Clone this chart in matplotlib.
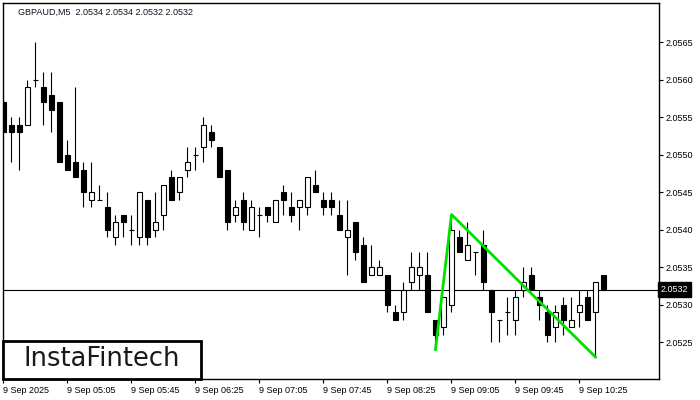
import matplotlib
matplotlib.use("Agg")
from matplotlib import pyplot as plt
from matplotlib.patches import Rectangle
import matplotlib.transforms as mtransforms

# GBPAUD M5 bars, 04:25 .. 10:40
opens = [2.0557, 2.0554, 2.0554, 2.0554, 2.0560, 2.0559, 2.0558, 2.0557, 2.0550, 2.0549,
         2.0548, 2.0544, 2.0544, 2.0543, 2.0539, 2.0542, 2.0540, 2.0539, 2.0544, 2.0540,
         2.0542, 2.0547, 2.0545, 2.0548, 2.0550, 2.0551, 2.0553, 2.0551, 2.0548, 2.0542,
         2.0544, 2.0540, 2.0542, 2.0543, 2.0541, 2.0545, 2.0543, 2.0543, 2.0543, 2.0546,
         2.0544, 2.0544, 2.0542, 2.0539, 2.0541, 2.0538, 2.0534, 2.0534, 2.0534, 2.0529,
         2.0529, 2.0533, 2.0534, 2.0534, 2.0528, 2.0527, 2.0530, 2.0539, 2.0536, 2.0537,
         2.0538, 2.0532, 2.0528, 2.0529, 2.0528, 2.0532, 2.0534, 2.0531, 2.0529, 2.0527,
         2.0530, 2.0527, 2.0529, 2.0531, 2.0529, 2.0534]
highs = [2.0558, 2.0555, 2.0555, 2.0560, 2.0565, 2.0561, 2.0561, 2.0557, 2.0552, 2.0559,
         2.0549, 2.0549, 2.0546, 2.0545, 2.0542, 2.0542, 2.0542, 2.0545, 2.0544, 2.0545,
         2.0546, 2.0548, 2.0547, 2.0551, 2.0551, 2.0555, 2.0554, 2.0551, 2.0548, 2.0544,
         2.0545, 2.0544, 2.0543, 2.0543, 2.0544, 2.0546, 2.0545, 2.0544, 2.0547, 2.0548,
         2.0545, 2.0545, 2.0544, 2.0544, 2.0541, 2.0539, 2.0538, 2.0536, 2.0534, 2.0530,
         2.0533, 2.0537, 2.0537, 2.0537, 2.0528, 2.0531, 2.0542, 2.0540, 2.0541, 2.0537,
         2.0540, 2.0532, 2.0528, 2.0531, 2.0532, 2.0535, 2.0535, 2.0532, 2.0530, 2.0530,
         2.0531, 2.0531, 2.0532, 2.0532, 2.0533, 2.0534]
lows = [2.0553, 2.0549, 2.0548, 2.0554, 2.0559, 2.0554, 2.0553, 2.0549, 2.0548, 2.0547,
        2.0543, 2.0543, 2.0544, 2.0539, 2.0538, 2.0539, 2.0538, 2.0538, 2.0538, 2.0539,
        2.0540, 2.0544, 2.0544, 2.0547, 2.0548, 2.0549, 2.0551, 2.0547, 2.0540, 2.0541,
        2.0540, 2.0540, 2.0539, 2.0541, 2.0541, 2.0542, 2.0541, 2.0540, 2.0542, 2.0545,
        2.0542, 2.0542, 2.0540, 2.0534, 2.0536, 2.0533, 2.0534, 2.0534, 2.0529, 2.0528,
        2.0528, 2.0532, 2.0532, 2.0529, 2.0524, 2.0526, 2.0529, 2.0537, 2.0536, 2.0534,
        2.0532, 2.0525, 2.0525, 2.0526, 2.0526, 2.0531, 2.0532, 2.0528, 2.0525, 2.0525,
        2.0526, 2.0527, 2.0527, 2.0528, 2.0523, 2.0532]
closes = [2.0553, 2.0553, 2.0553, 2.0559, 2.0560, 2.0557, 2.0556, 2.0549, 2.0548, 2.0547,
          2.0545, 2.0545, 2.0544, 2.0540, 2.0541, 2.0541, 2.0540, 2.0545, 2.0539, 2.0541,
          2.0546, 2.0544, 2.0547, 2.0549, 2.0550, 2.0554, 2.0552, 2.0547, 2.0541, 2.0543,
          2.0541, 2.0543, 2.0542, 2.0542, 2.0544, 2.0544, 2.0542, 2.0544, 2.0547, 2.0545,
          2.0543, 2.0543, 2.0540, 2.0540, 2.0537, 2.0533, 2.0535, 2.0535, 2.0530, 2.0528,
          2.0532, 2.0535, 2.0535, 2.0529, 2.0526, 2.0531, 2.0540, 2.0537, 2.0538, 2.0537,
          2.0533, 2.0529, 2.0528, 2.0529, 2.0531, 2.0533, 2.0532, 2.0530, 2.0526, 2.0529,
          2.0528, 2.0528, 2.0530, 2.0528, 2.0533, 2.0532]

x_ticks = [0, 8, 16, 24, 32, 40, 48, 56, 64, 72]
x_labels = ["9 Sep 2025", "9 Sep 05:05", "9 Sep 05:45", "9 Sep 06:25", "9 Sep 07:05",
            "9 Sep 07:45", "9 Sep 08:25", "9 Sep 09:05", "9 Sep 09:45", "9 Sep 10:25"]
y_ticks = [2.0525, 2.0530, 2.0535, 2.0540, 2.0545, 2.0550, 2.0555, 2.0560, 2.0565]

# double bottom pattern
pattern_x = [54, 56, 74]
pattern_y = [2.0524, 2.0542, 2.0523]

last_price = 2.0532
title = "GBPAUD,M5  2.0534 2.0534 2.0532 2.0532"

plt.rcParams["font.family"] = ["Liberation Sans", "DejaVu Sans"]

fig = plt.figure(figsize=(7, 4), dpi=100)
ax = fig.add_axes([2.7 / 700, 21 / 400, 656.3 / 700, 376 / 400])

w = 0.625
for i in range(len(opens)):
    o, h, l, c = opens[i], highs[i], lows[i], closes[i]
    ax.vlines(i, l, h, color="black", linewidth=0.8, zorder=2)
    if o == c:
        ax.hlines(o, i - w / 2, i + w / 2, color="black", linewidth=0.8, zorder=3)
    else:
        fc = "white" if c > o else "black"
        ax.add_patch(Rectangle((i - w / 2, min(o, c)), w, abs(c - o),
                               facecolor=fc, edgecolor="black", linewidth=0.8, zorder=3))

ax.axhline(last_price, color="black", linewidth=0.8, zorder=1)
ax.plot(pattern_x, pattern_y, color="#00e000", linewidth=2, zorder=4)

ax.set_xlim(-0.1, 81.94)
ax.set_ylim(2.052007, 2.05702)

ax.yaxis.tick_right()
ax.set_yticks(y_ticks)
ax.set_yticklabels(["%.4f" % v for v in y_ticks])
ax.set_xticks(x_ticks)
ax.set_xticklabels(x_labels, ha="left")
ax.tick_params(axis="both", labelsize=6.5, length=3, width=0.8, color="black", pad=2)
for s in ax.spines.values():
    s.set_linewidth(1)

trans = mtransforms.blended_transform_factory(ax.transAxes, ax.transData)
ax.text(1.003, last_price, "%.4f" % last_price, transform=trans, fontsize=6.5,
        color="white", va="center", ha="left", clip_on=False,
        bbox=dict(boxstyle="square,pad=0.3", facecolor="black", edgecolor="black"))

ax.text(0.023, 0.976, title, transform=ax.transAxes, fontsize=6.5, va="center",
        color="#101020")

fig.patches.append(Rectangle((2.7 / 700, 21 / 400), 198.3 / 700, 38 / 400,
                             transform=fig.transFigure, facecolor="white",
                             edgecolor="black", linewidth=2, zorder=10))
fig.text(102 / 700, 41 / 400, "InstaFintech", family="DejaVu Sans", fontsize=18.5,
         ha="center", va="center", color="#1a1a1a", zorder=11)

fig.savefig("out.png", dpi=100)
